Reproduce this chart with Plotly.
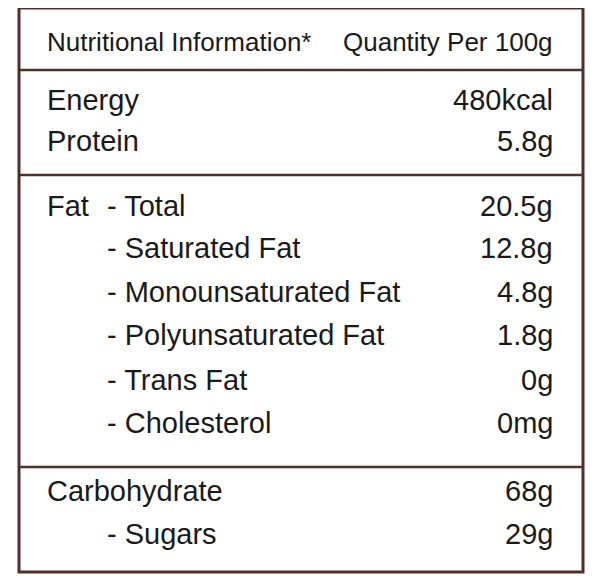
import plotly.graph_objects as go

header_left = "Nutritional Information*"
header_right = "Quantity Per 100g"
labels = ["Energy", "Protein", "Fat  - Total", "- Saturated Fat", "- Monounsaturated Fat",
          "- Polyunsaturated Fat", "- Trans Fat", "- Cholesterol", "Carbohydrate", "- Sugars"]
values = ["480kcal", "5.8g", "20.5g", "12.8g", "4.8g", "1.8g", "0g", "0mg", "68g", "29g"]
indent = [0, 0, 0, 1, 1, 1, 1, 1, 0, 1]
row_y = [100, 141, 206, 248, 292, 335, 380, 423, 491, 534]
divider_y = [70, 175, 467]

FONT = "Liberation Sans, Arial, sans-serif"
BROWN = "#4e302b"
fig = go.Figure()
ann = []
ann.append(dict(x=45, y=42, text=header_left, xanchor="left", font=dict(size=26)))
ann.append(dict(x=555, y=42, text=header_right, xanchor="right", font=dict(size=26)))
for lab, val, ind, y in zip(labels, values, indent, row_y):
    if lab.startswith("Fat"):
        ann.append(dict(x=45, y=y, text="Fat", xanchor="left", font=dict(size=29)))
        ann.append(dict(x=105, y=y, text="- Total", xanchor="left", font=dict(size=29)))
    else:
        ann.append(dict(x=105 if ind else 45, y=y, text=lab, xanchor="left", font=dict(size=29)))
    ann.append(dict(x=555, y=y, text=val, xanchor="right", font=dict(size=29)))
for a in ann:
    a.update(xref="x", yref="y", showarrow=False, yanchor="middle")
    a["font"].update(family=FONT, color="#1a1a1a")

shapes = [dict(type="rect", x0=19, x1=583, y0=8, y1=572, line=dict(color=BROWN, width=3))]
for y in divider_y:
    shapes.append(dict(type="line", x0=19, x1=583, y0=y, y1=y, line=dict(color=BROWN, width=2.5)))
for s in shapes:
    s.update(xref="x", yref="y")

fig.update_layout(width=600, height=580, margin=dict(l=0, r=0, t=0, b=0),
                  plot_bgcolor="white", paper_bgcolor="white",
                  xaxis=dict(range=[8, 608], visible=False),
                  yaxis=dict(range=[588, 8], visible=False),
                  annotations=ann, shapes=shapes, showlegend=False)
fig.write_html("out.html")
